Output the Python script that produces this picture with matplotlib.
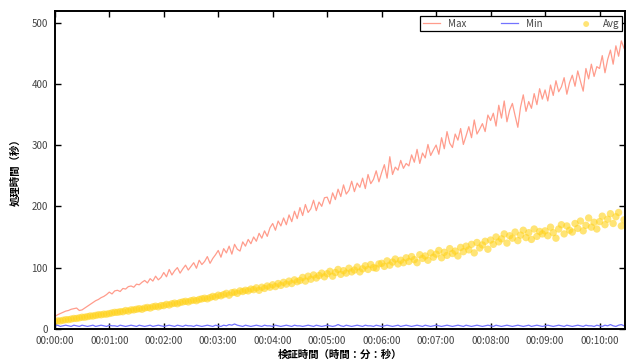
import numpy as np
import matplotlib.pyplot as plt

plt.rcParams['font.family'] = ['Noto Sans CJK JP', 'DejaVu Sans']

# elapsed seconds, one sample every 3 s
t_sec = list(range(0, 630, 3))

max_vals = [
    20, 23, 25, 27, 29, 30, 32, 33, 34, 30,
    31, 34, 37, 40, 43, 46, 48, 51, 53, 56,
    60, 57, 62, 63, 61, 66, 65, 69, 70, 68,
    73, 72, 76, 79, 75, 82, 78, 86, 80, 84,
    92, 85, 97, 88, 95, 100, 91, 98, 104, 96,
    102, 108, 99, 112, 105, 110, 118, 107, 115, 121,
    128, 117, 131, 124, 135, 122, 138, 130, 127, 142,
    135, 146, 139, 150, 143, 156, 148, 160, 151, 165,
    172, 161, 176, 168, 181, 170, 186, 175, 192, 180,
    198, 185, 203, 190, 196, 210, 193, 207, 200, 214,
    215, 204, 222, 211, 228, 216, 235, 220, 226, 241,
    224, 238, 231, 246, 229, 252, 237, 244, 258, 240,
    255, 268, 246, 281, 252, 264, 259, 275, 262, 270,
    266, 284, 272, 293, 270, 287, 279, 301, 283, 292,
    300, 285, 312, 294, 322, 303, 296, 318, 308, 327,
    301, 315, 330, 312, 341, 318, 326, 335, 322, 349,
    340, 352, 331, 365, 344, 372, 338, 357, 368, 348,
    329, 362, 382, 355, 371, 360, 384, 366, 392, 375,
    390, 372, 398, 381, 405, 387, 395, 410, 383, 402,
    414, 396, 421, 404, 388, 425, 408, 432, 412, 428,
    425, 446, 418, 440, 455, 432, 462, 445, 470, 458,
]

min_vals = [
    5, 6, 4, 5, 6, 5, 4, 6, 5, 4,
    6, 5, 4, 5, 6, 4, 5, 6, 5, 4,
    6, 5, 5, 4, 6, 5, 4, 5, 6, 5,
    4, 6, 5, 4, 5, 6, 4, 5, 6, 5,
    4, 5, 6, 5, 4, 6, 5, 4, 6, 5,
    5, 4, 6, 5, 4, 5, 6, 5, 4, 6,
    5, 4, 6, 5, 7, 6, 8, 6, 5, 4,
    6, 5, 4, 5, 6, 5, 4, 6, 5, 5,
    4, 6, 5, 4, 5, 6, 5, 4, 6, 5,
    5, 4, 5, 6, 5, 4, 6, 5, 4, 5,
    6, 5, 4, 5, 7, 5, 4, 6, 5, 4,
    5, 6, 5, 4, 6, 5, 5, 4, 6, 5,
    4, 5, 6, 5, 4, 5, 6, 4, 5, 6,
    5, 4, 5, 6, 5, 4, 6, 5, 4, 5,
    6, 5, 4, 5, 6, 5, 4, 5, 6, 5,
    4, 6, 5, 4, 5, 6, 5, 4, 5, 6,
    5, 4, 6, 5, 4, 5, 6, 5, 4, 5,
    6, 5, 4, 5, 6, 4, 5, 6, 5, 4,
    5, 6, 5, 4, 5, 6, 5, 4, 6, 5,
    4, 5, 6, 5, 4, 6, 5, 5, 4, 6,
    5, 4, 6, 5, 7, 5, 4, 6, 7, 5,
]

avg_vals = [
    12, 13, 13, 14, 15, 15, 16, 17, 17, 18,
    19, 19, 20, 21, 21, 22, 23, 23, 24, 24,
    25, 26, 27, 27, 28, 28, 30, 29, 31, 31,
    32, 33, 32, 34, 35, 34, 36, 37, 36, 38,
    38, 40, 39, 41, 42, 41, 43, 44, 45, 44,
    46, 47, 46, 48, 49, 50, 49, 51, 53, 52,
    55, 54, 56, 58, 55, 59, 60, 58, 62, 61,
    63, 62, 65, 64, 67, 63, 68, 66, 70, 68,
    72, 69, 74, 71, 76, 73, 78, 74, 80, 77,
    79, 84, 78, 86, 81, 88, 83, 87, 91, 85,
    90, 94, 86, 92, 97, 89, 95, 91, 99, 93,
    96, 101, 93, 98, 103, 97, 105, 100, 99, 106,
    107, 102, 111, 104, 109, 114, 106, 112, 108, 116,
    110, 118, 113, 108, 121, 115, 119, 112, 124, 117,
    122, 128, 116, 125, 120, 131, 123, 127, 119, 133,
    126, 135, 129, 138, 124, 141, 132, 137, 143, 130,
    145, 138, 150, 142, 147, 155, 140, 152, 148, 158,
    144, 153, 161, 149, 157, 146, 163, 151, 159, 155,
    160, 152, 166, 157, 148, 163, 170, 155, 168, 161,
    158, 172, 164, 176, 160, 169, 181, 166, 174, 163,
    175, 184, 170, 179, 188, 172, 183, 190, 168, 178,
]

x_ticks = list(range(0, 601, 60))
x_labels = ['00:%02d:00' % (s // 60) for s in x_ticks]
y_ticks = [0, 100, 200, 300, 400, 500]

#--------------------Plotting Section---------------------------
fig = plt.figure(figsize=(6.3, 3.63), dpi=100)
ax = fig.add_axes([0.087, 0.094, 0.905, 0.876])

ax.plot(t_sec, max_vals, color='#ff9c8c', lw=0.9, label='Max')
ax.plot(t_sec, min_vals, color='#7373ff', lw=0.9, label='Min')
ax.scatter(t_sec, avg_vals, s=28, color='#ffd21a', alpha=0.6, edgecolors='none', label='Avg')

ax.set_xlim(0, 628)
ax.set_ylim(0, 519)
ax.set_xticks(x_ticks)
ax.set_xticklabels(x_labels)
ax.set_yticks(y_ticks)
ax.tick_params(direction='in', length=4, width=1, top=True, right=True,
               labelsize=7, labelcolor='#444444', pad=5)
for sp in ax.spines.values():
    sp.set_linewidth(1.4)

ax.set_ylabel('処理時間（秒）', fontsize=7.5, fontweight='bold', labelpad=8)
ax.set_xlabel('検証時間（時間：分：秒）', fontsize=7.5, fontweight='bold', labelpad=3)

leg = ax.legend(loc='upper right', ncol=3, mode='expand',
                bbox_to_anchor=(0.64, 0.93, 0.355, 0.055), fontsize=7,
                fancybox=False, edgecolor='black', framealpha=1,
                borderpad=0.3, borderaxespad=0, handlelength=1.8, markerscale=0.8)
leg.get_frame().set_linewidth(0.9)
for txt in leg.get_texts():
    txt.set_color('#444444')

fig.savefig('out.png', dpi=100)
